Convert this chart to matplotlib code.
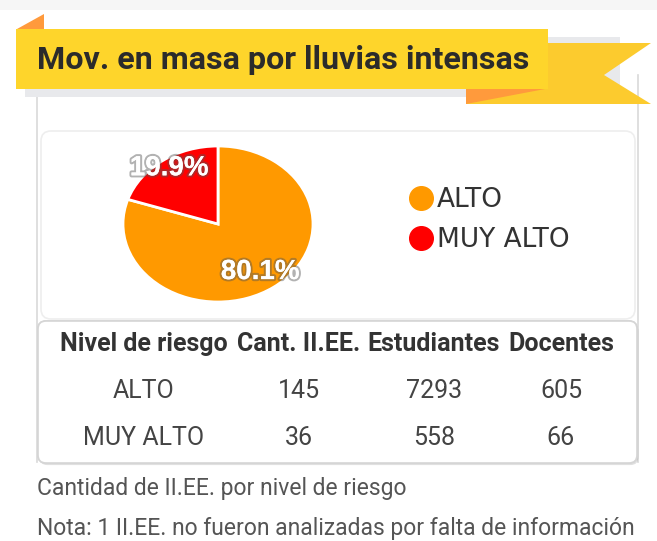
import matplotlib
matplotlib.use("Agg")
import matplotlib.pyplot as plt
import matplotlib.patheffects as pe
from matplotlib.patches import Polygon, Rectangle, FancyBboxPatch
from matplotlib.lines import Line2D
import numpy as np

# ---- data ----
title = "Mov. en masa por lluvias intensas"
categories = ["ALTO", "MUY ALTO"]
cant_iiee = [145, 36]
estudiantes = [7293, 558]
docentes = [605, 66]
headers = ["Nivel de riesgo", "Cant. II.EE.", "Estudiantes", "Docentes"]
pie_colors = ["#FF9900", "#FF0000"]
footnote1 = "Cantidad de II.EE. por nivel de riesgo"
footnote2 = "Nota: 1 II.EE. no fueron analizadas por falta de información"

W, H = 657, 541
fig = plt.figure(figsize=(W / 100, H / 100), dpi=100)
fig.patch.set_facecolor("white")

# overlay axes in pixel coordinates
ov = fig.add_axes([0, 0, 1, 1])
ov.set_xlim(0, W)
ov.set_ylim(H, 0)
ov.axis("off")

# faint top band
ov.add_patch(Rectangle((0, 0), W, 10, color="#f6f6f6", lw=0, zorder=0))

# outer frame lines
ov.plot([37, 37], [95, 462], color="#d9d9d9", lw=1.2, zorder=1)
ov.plot([638, 638], [75, 462], color="#d9d9d9", lw=1.2, zorder=1)

# pie card
ov.add_patch(FancyBboxPatch((41, 131), 594, 188, boxstyle="round,pad=0,rounding_size=10",
                            fc="white", ec="#eeeeee", lw=1.2, zorder=2))
# table card
ov.add_patch(FancyBboxPatch((38, 321), 599, 142, boxstyle="round,pad=0,rounding_size=8",
                            fc="white", ec="#d5d5d5", lw=1.2, zorder=2,
                            path_effects=[pe.withSimplePatchShadow(offset=(1, -1.5), shadow_rgbFace="#999999", alpha=0.3), pe.Normal()]))

# shadow of ribbon
ov.add_patch(Rectangle((25, 37), 595, 60, fc="#e8e9ec", ec="none", zorder=3))
# ribbon: tail
ov.add_patch(Polygon([(466, 43), (651, 43), (604, 75), (651, 104), (466, 104)],
                     closed=True, fc="#FCCB2E", ec="none", zorder=4))
ov.add_patch(Polygon([(466, 89), (545, 89), (466, 104)], closed=True,
                     fc="#FF9A3C", ec="none", zorder=4.5))
# orange flag corner
ov.add_patch(Polygon([(17, 29), (44, 14), (44, 29)], closed=True,
                     fc="#FF9A3C", ec="none", zorder=4))
# main yellow band
ov.add_patch(Rectangle((16, 29), 532, 60, fc="#FED52B", ec="none", zorder=5))
ov.text(37, 60, title, fontsize=23.2, fontweight="bold", family="Roboto",
        color="#2b2b2b", va="center", ha="left", zorder=6)

# ---- pie ----
cx, cy, rx, ry = 218, 224, 95, 78
pax = fig.add_axes([(cx - rx) / W, 1 - (cy + ry) / H, 2 * rx / W, 2 * ry / H])
wedges, _ = pax.pie(cant_iiee, colors=pie_colors, startangle=90, counterclock=False,
                    wedgeprops=dict(edgecolor="white", linewidth=2))
pax.set_aspect("auto")
pax.set_xlim(-1, 1)
pax.set_ylim(-1, 1)
pax.axis("off")
total = sum(cant_iiee)
label_dist = [0.76, 0.88]
for w, v, d in zip(wedges, cant_iiee, label_dist):
    ang = np.deg2rad((w.theta1 + w.theta2) / 2)
    pax.text(d * np.cos(ang), d * np.sin(ang), f"{100 * v / total:.1f}%",
             ha="center", va="center", fontsize=20, fontweight="bold",
             family="Liberation Sans", color="white",
             path_effects=[pe.withStroke(linewidth=3, foreground="#555555", alpha=0.45), pe.Normal()])

# legend
handles = [Line2D([0], [0], marker="o", linestyle="none", markersize=17,
                  markerfacecolor=c, markeredgecolor=c) for c in pie_colors]
fig.legend(handles, categories, loc="center left", bbox_to_anchor=(396 / W, 1 - 220 / H),
           frameon=False, prop=dict(family="DejaVu Sans", size=19),
           handletextpad=0.05, labelspacing=0.55, borderaxespad=0, handlelength=1.1,
           labelcolor="#333333")

# ---- table ----
col_x = [144, 299, 434, 561]
row_y = [344, 391, 438]
for x, h in zip(col_x, headers):
    ov.text(x, row_y[0], h, ha="center", va="center", fontsize=18, fontweight="bold",
            family="Roboto", color="#333333", zorder=6)
for i, cat in enumerate(categories):
    vals = [cat, str(cant_iiee[i]), str(estudiantes[i]), str(docentes[i])]
    for x, v in zip(col_x, vals):
        ov.text(x, row_y[i + 1], v, ha="center", va="center", fontsize=18,
                family="Roboto", color="#444444", zorder=6)

# footnotes
ov.text(37, 489, footnote1, ha="left", va="center", fontsize=16.5, family="Roboto", color="#555555")
ov.text(37, 528, footnote2, ha="left", va="center", fontsize=16.5, family="Roboto", color="#555555")

fig.savefig("out.png", dpi=100, facecolor="white")
